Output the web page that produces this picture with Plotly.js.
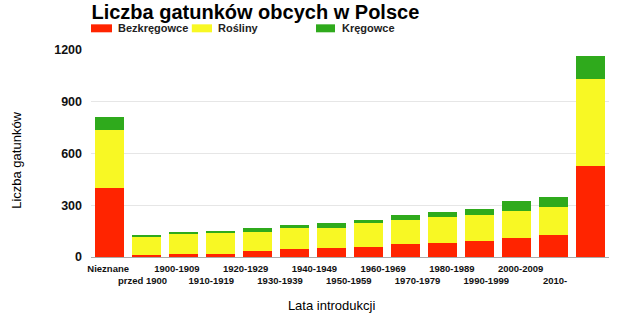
<!DOCTYPE html>
<html>
<head>
<meta charset="utf-8">
<script src="https://cdn.plot.ly/plotly-3.0.1.min.js"></script>
<style>html,body{margin:0;padding:0;background:#fff}#chart{width:622px;height:313px}</style>
</head>
<body>
<div id="chart"></div>
<script>
const categories = ['Nieznane','przed 1900','1900-1909','1910-1919','1920-1929','1930-1939','1940-1949','1950-1959','1960-1969','1970-1979','1980-1989','1990-1999','2000-2009','2010-'];
const bezkregowce = [400, 10, 20, 20, 35, 45, 50, 60, 75, 82, 94, 113, 127, 530];
const rosliny     = [335, 107, 113, 117, 111, 121, 120, 137, 140, 148, 150, 156, 160, 504];
const kregowce    = [75, 8, 10, 15, 22, 19, 25, 18, 29, 30, 35, 55, 60, 132];
const seriesNames = ['Bezkręgowce', 'Rośliny', 'Kręgowce'];
const yTicks = [0, 300, 600, 900, 1200];

const colors = ['#FF2400', '#F8F824', '#2FAA1C'];
const FONT = 'Arial, "Liberation Sans", sans-serif';

const labelPos = categories.map((c, i) => i);
const tickText = categories.map((c, i) => i % 2 === 0 ? c : ' <br>' + c);

// invisible helper trace on the label axis (subplot drawn first, below the bars)
const traces = [{type: 'scatter', mode: 'none', x: labelPos, y: labelPos.map(() => 0),
  xaxis: 'x', yaxis: 'y', hoverinfo: 'skip', showlegend: false}];

[bezkregowce, rosliny, kregowce].forEach((vals, i) => traces.push({
  type: 'bar', x: categories, y: vals, name: seriesNames[i],
  xaxis: 'x2', yaxis: 'y',
  marker: {color: colors[i], line: {width: 0}},
  hoverinfo: 'x+y+name'
}));

// custom legend
const legX = [[0, 0.0405], [0.1946, 0.2336], [0.4344, 0.4710]];
const legTextX = [0.0483, 0.2409, 0.4807];
const shapes = legX.map((p, i) => ({type: 'rect', xref: 'paper', yref: 'paper',
  x0: p[0], x1: p[1], y0: 1.0855, y1: 1.124, fillcolor: colors[i], line: {width: 0}}));
const annotations = seriesNames.map((n, i) => ({xref: 'paper', yref: 'paper', x: legTextX[i],
  y: 1.1047, xanchor: 'left', yanchor: 'middle', showarrow: false, text: n,
  font: {family: FONT, size: 11, color: '#222', weight: 'bold'}}));
annotations.push({xref: 'paper', yref: 'paper', x: -0.143, y: 0.469, xanchor: 'center', yanchor: 'middle',
  textangle: -90, showarrow: false, text: 'Liczba gatunków',
  font: {family: FONT, size: 13, color: '#000'}});

const layout = {
  width: 622, height: 313,
  margin: {l: 91, r: 13, t: 50, b: 56},
  paper_bgcolor: '#fff', plot_bgcolor: 'rgba(0,0,0,0)',
  barmode: 'stack', bargap: 0.24, showlegend: false,
  title: {text: 'Liczba gatunków obcych w Polsce', x: 0.147, xref: 'container', xanchor: 'left',
    y: 0.985, yref: 'container', yanchor: 'top', pad: {t: 0},
    font: {family: FONT, size: 20, color: '#000', weight: 'bold'}},
  xaxis: {type: 'linear', domain: [0, 0.929], range: [-0.5, 13.5],
    showline: false, showgrid: false, zeroline: false,
    tickmode: 'array', tickvals: labelPos, ticktext: tickText, ticks: '', tickangle: 0,
    ticklabelstandoff: 4,
    tickfont: {family: FONT, size: 9.5, color: '#111', weight: 'bold'},
    title: {text: 'Lata introdukcji', font: {family: FONT, size: 13, color: '#000'}, standoff: 28}},
  xaxis2: {type: 'category', anchor: 'y', domain: [0, 1], showticklabels: false, showline: true,
    linecolor: '#aaaaaa', linewidth: 1, showgrid: false, zeroline: false, ticks: ''},
  yaxis: {range: [0, 1200], tickmode: 'array', tickvals: yTicks, showgrid: true, gridcolor: '#e6e6e6',
    zeroline: false, showline: false, ticks: '', ticklabelstandoff: 8,
    tickfont: {family: FONT, size: 12.5, color: '#111', weight: 'bold'}},
  shapes: shapes, annotations: annotations
};

Plotly.newPlot('chart', traces, layout, {displayModeBar: false, staticPlot: true});
</script>
</body>
</html>
